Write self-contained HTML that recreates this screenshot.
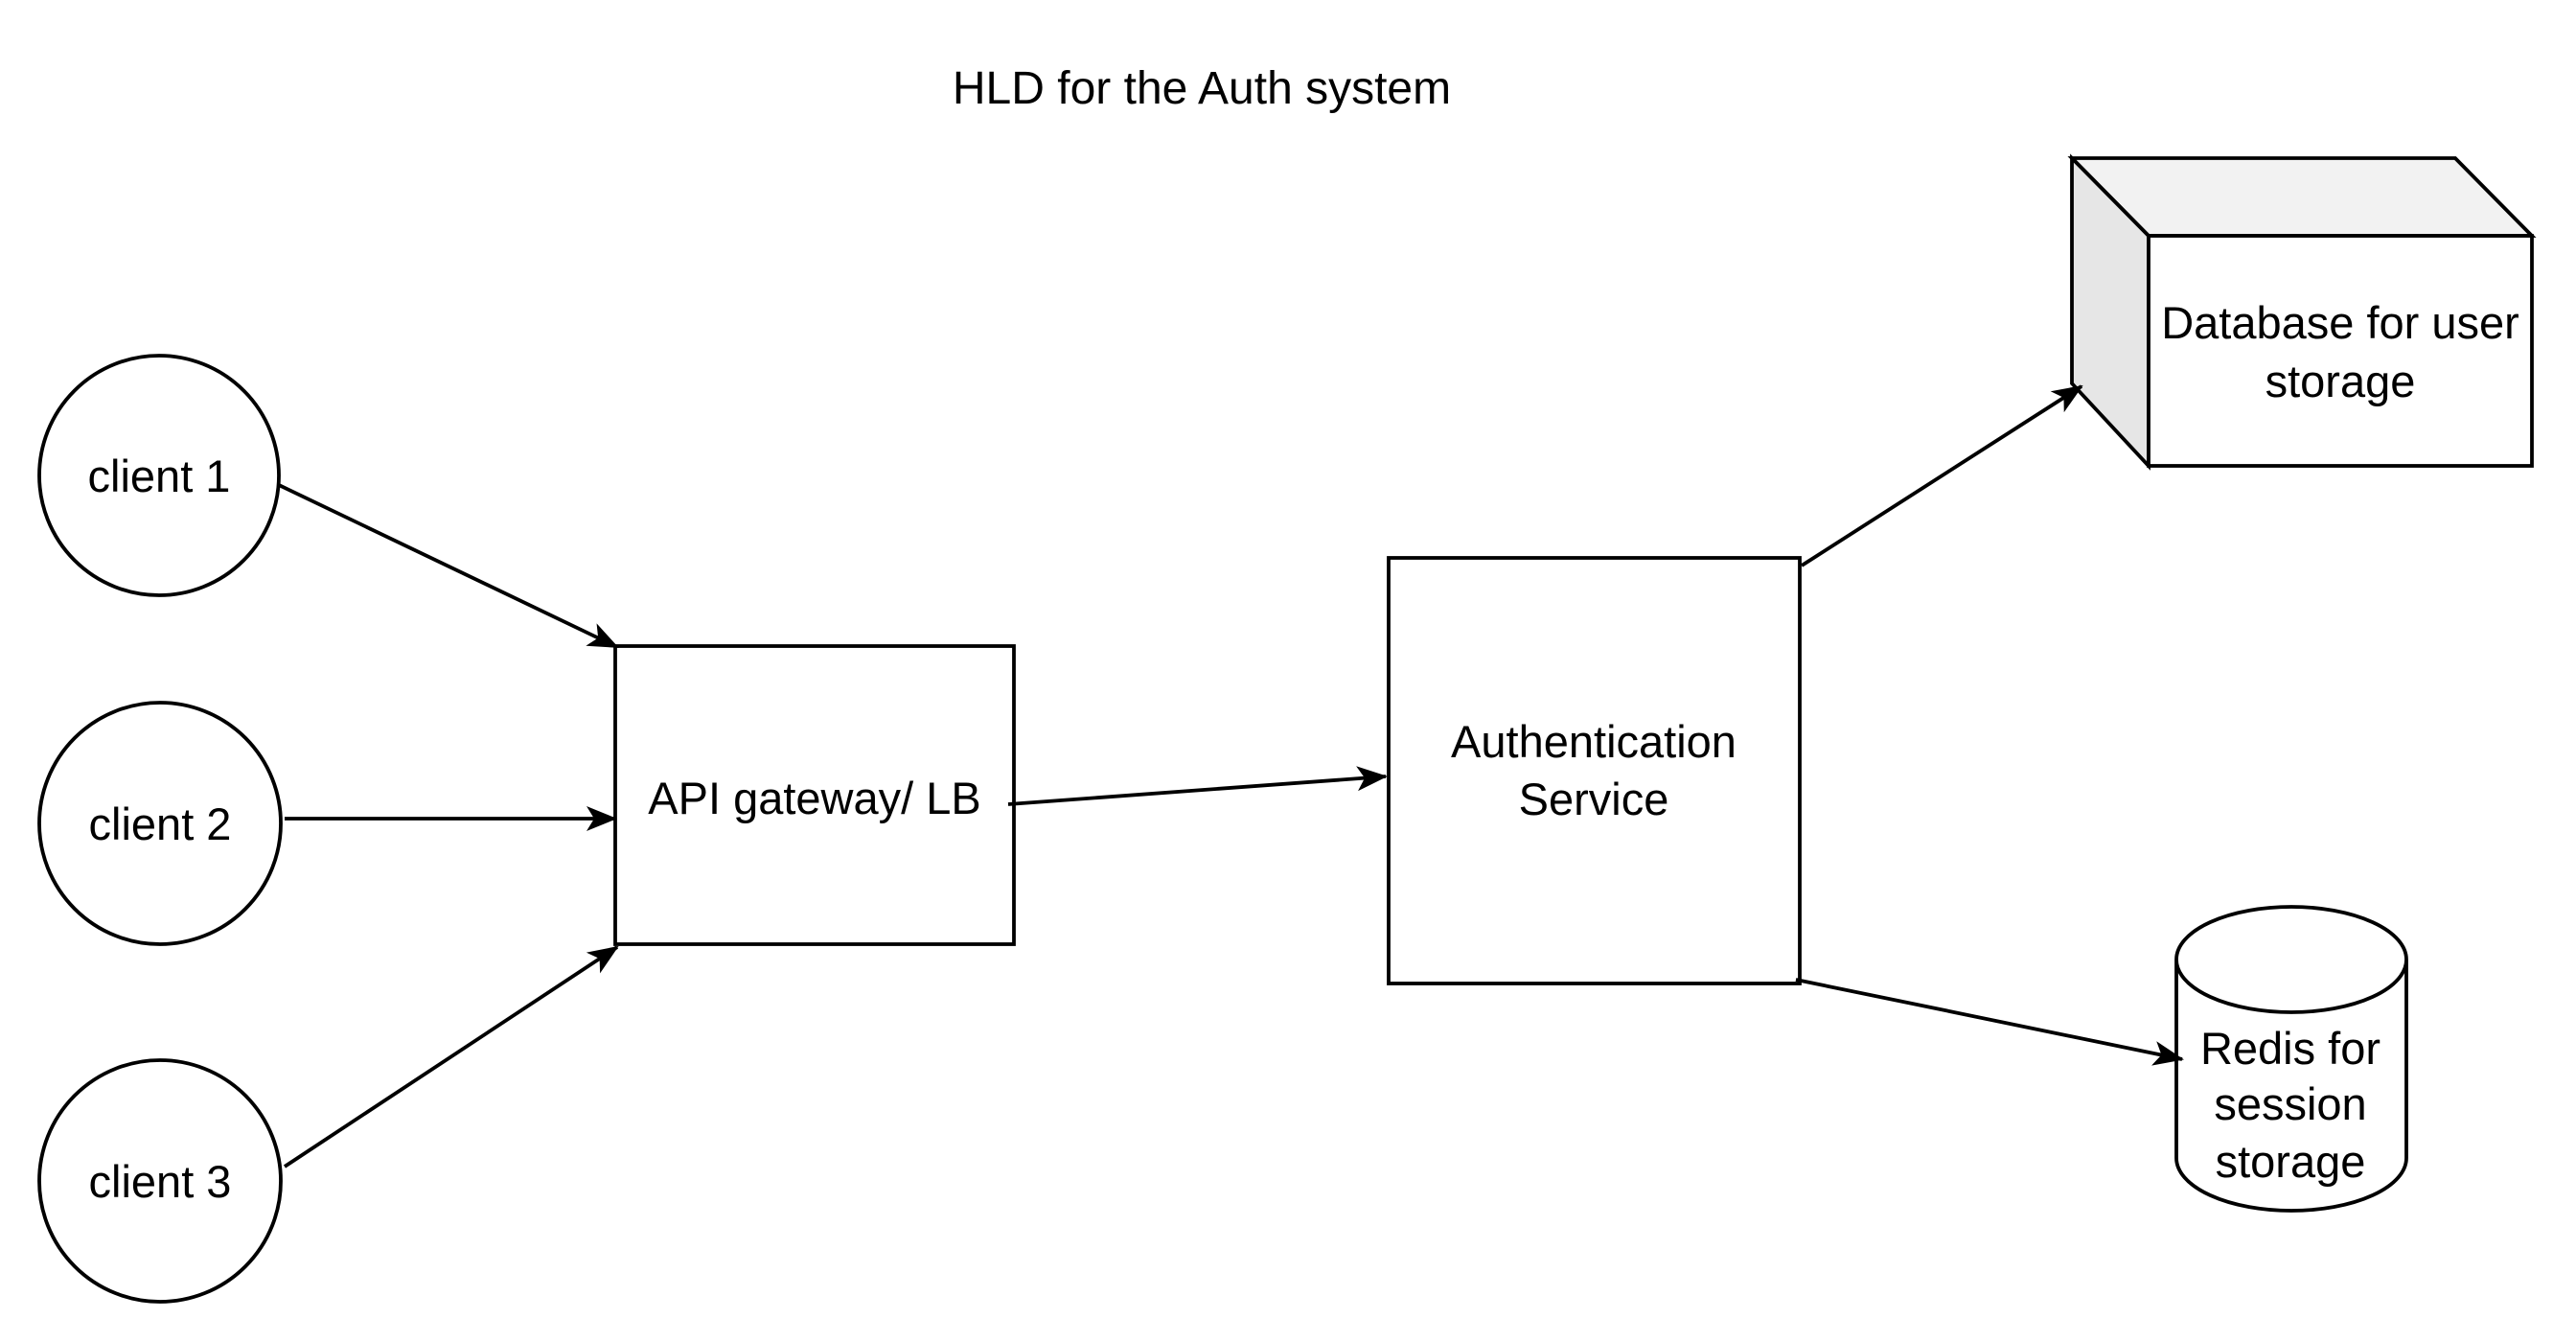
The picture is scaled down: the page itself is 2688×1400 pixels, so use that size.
<!DOCTYPE html>
<html><head><style>html,body{margin:0;padding:0;background:#fff;}svg{display:block}</style></head>
<body>
<svg width="2688" height="1400" viewBox="0 0 2688 1400" xmlns="http://www.w3.org/2000/svg" font-family="'Liberation Sans', Arial, sans-serif" font-size="47" fill="none" stroke="#000" stroke-width="3.8">
<defs>
<marker id="a" viewBox="0 0 32 26" refX="30" refY="13" markerWidth="32" markerHeight="26" markerUnits="userSpaceOnUse" orient="auto">
<path d="M0,0 L32,13 L0,26 L8,13 Z" fill="#000" stroke="none"/>
</marker>
</defs>
<text x="1254" y="108" text-anchor="middle" fill="#000" stroke="none" font-size="48">HLD for the Auth system</text>
<circle cx="166" cy="496" r="125" fill="#fff"/>
<circle cx="167" cy="859" r="126" fill="#fff"/>
<circle cx="167" cy="1232" r="126" fill="#fff"/>
<g fill="#000" stroke="none" text-anchor="middle">
<text x="166" y="513">client 1</text>
<text x="167" y="876">client 2</text>
<text x="167" y="1249">client 3</text>
</g>
<rect x="642" y="674" width="416" height="311" fill="#fff"/>
<text x="850" y="849" fill="#000" stroke="none" text-anchor="middle">API gateway/ LB</text>
<rect x="1449" y="582" width="429" height="444" fill="#fff"/>
<g fill="#000" stroke="none" text-anchor="middle">
<text x="1663" y="790">Authentication</text>
<text x="1663" y="850">Service</text>
</g>
<polygon points="2162,165 2562,165 2642,246 2242,246" fill="#f2f2f2"/>
<polygon points="2162,165 2242,246 2242,486 2162,400" fill="#e6e6e6"/>
<rect x="2242" y="246" width="400" height="240" fill="#fff"/>
<g fill="#000" stroke="none" text-anchor="middle">
<text x="2442" y="353">Database for user</text>
<text x="2442" y="414">storage</text>
</g>
<path d="M2271,1001 L2271,1208 A120,55 0 0 0 2511,1208 L2511,1001 A120,55 0 0 0 2271,1001 A120,55 0 0 0 2511,1001" fill="#fff"/>
<g fill="#000" stroke="none" text-anchor="middle">
<text x="2390" y="1110">Redis for</text>
<text x="2390" y="1168">session</text>
<text x="2390" y="1228">storage</text>
</g>
<line x1="291" y1="506" x2="644" y2="675" marker-end="url(#a)"/>
<line x1="297" y1="854" x2="642" y2="854" marker-end="url(#a)"/>
<line x1="297" y1="1217" x2="644" y2="988" marker-end="url(#a)"/>
<line x1="1052" y1="839" x2="1446" y2="810" marker-end="url(#a)"/>
<line x1="1880" y1="590" x2="2172" y2="403" marker-end="url(#a)"/>
<line x1="1874" y1="1022" x2="2277" y2="1105" marker-end="url(#a)"/>
</svg>
</body></html>
